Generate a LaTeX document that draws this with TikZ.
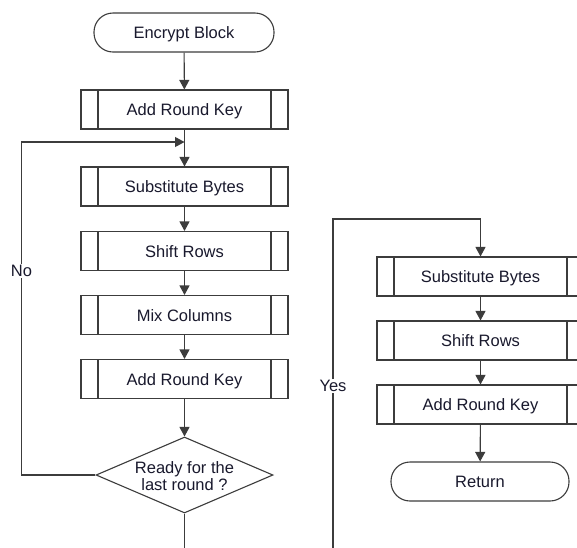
\documentclass[tikz,border=0pt]{standalone}
\usepackage{fontspec}
\setmainfont{Liberation Sans}
\usetikzlibrary{shapes.geometric,arrows.meta}
\definecolor{ln}{RGB}{60,60,60}
\definecolor{tx}{RGB}{25,25,45}
\begin{document}
\begin{tikzpicture}[x=1pt,y=-1pt,
  every node/.style={font=\fontsize{16.5}{17.5}\selectfont, text=tx},
  proc/.style={draw=ln, line width=1.1pt, minimum width=207pt, minimum height=39pt, inner sep=0pt,
    text height=12.5pt, text depth=0pt,
    path picture={\draw[ln, line width=1.1pt]
      ([xshift=17pt]path picture bounding box.north west) -- ([xshift=17pt]path picture bounding box.south west)
      ([xshift=-17pt]path picture bounding box.north east) -- ([xshift=-17pt]path picture bounding box.south east);}},
  term/.style={draw=ln, line width=1.1pt, rounded corners=19pt, minimum height=39pt, inner sep=0pt,
    text height=12.5pt, text depth=0pt},
  dec/.style={draw=ln, line width=1.1pt, diamond, minimum width=177pt, minimum height=76pt, inner sep=0pt},
  lbl/.style={inner sep=1pt, fill=white},
  con/.style={draw=ln, line width=1.1pt},
  arr/.style={con, -{Triangle[length=9.5pt,width=10pt]}}
]
\clip (0,0) rectangle (577,547);
\fill[white] (0,0) rectangle (577,547);

% left column
\node[term, minimum width=180pt] (eb) at (184,32.5) {Encrypt Block};
\node[proc] (ark1) at (184.5,109.5) {Add Round Key};
\node[proc] (sb1) at (184.5,186.5) {Substitute Bytes};
\node[proc] (sr1) at (184.5,251) {Shift Rows};
\node[proc] (mc) at (184.5,315) {Mix Columns};
\node[proc] (ark2) at (184.5,379) {Add Round Key};
\node[dec] (rd) at (184.5,475) {};
\node[align=center] (rdt) at ([yshift=-1pt]rd.center) {Ready for the\\last round ?};
\coordinate (join) at (184.5,142);
\coordinate (botL) at (184.5,550);

% right column
\node[proc] (sb2) at (480.5,276.5) {Substitute Bytes};
\node[proc] (sr2) at (480.5,340.5) {Shift Rows};
\node[proc] (ark3) at (480.5,404.5) {Add Round Key};
\node[term, minimum width=178pt] (ret) at (480,481.5) {Return};

% labels
\node[lbl] (no) at (21.5,271) {No};
\node[lbl] (yes) at (333,386) {Yes};
\coordinate (yesBot) at (333,550);
\coordinate (yesTop) at (480.5,219);

% connectors
\draw[arr] (eb) -- (ark1);
\draw[arr] (ark1) -- (sb1);
\draw[arr] (sb1) -- (sr1);
\draw[arr] (sr1) -- (mc);
\draw[arr] (mc) -- (ark2);
\draw[arr] (ark2) -- (rd);
\draw[con] (rd.west) -| (no.south);
\draw[arr] (no.north) |- (join);
\draw[con] (rd.south) -- (botL);
\draw[con] (yesBot) -- (yes.south);
\draw[arr] (yes.north) |- (yesTop) -- (sb2.north);
\draw[arr] (sb2) -- (sr2);
\draw[arr] (sr2) -- (ark3);
\draw[arr] (ark3) -- (ret);
\end{tikzpicture}
\end{document}
